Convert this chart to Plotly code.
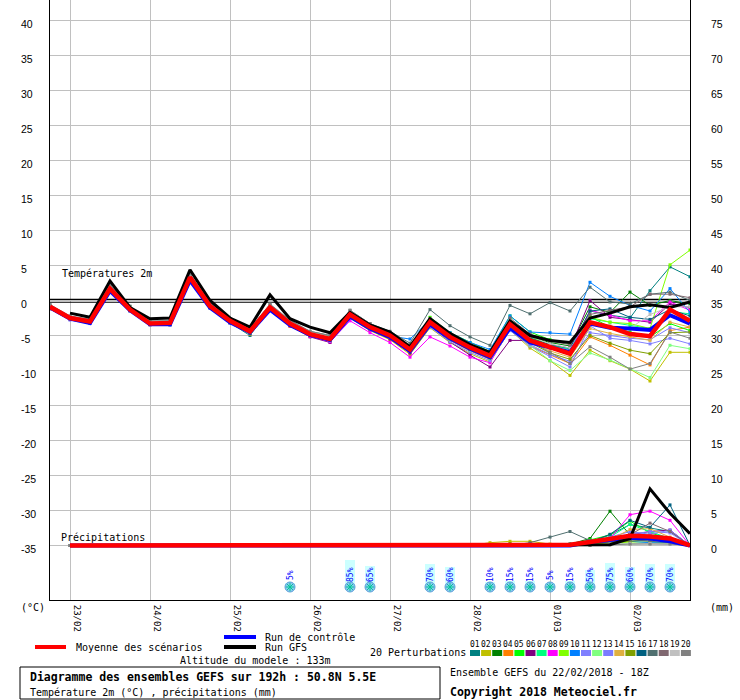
import plotly.graph_objects as go

# ---------------- data ----------------
hours = list(range(0, 193, 6))  # 22/02 18Z + 0..192h

date_tick_hours = [6, 30, 54, 78, 102, 126, 150, 174]
date_labels = ['23/02', '24/02', '25/02', '26/02', '27/02', '28/02', '01/03', '02/03']
temp_ticks = [-35, -30, -25, -20, -15, -10, -5, 0, 5, 10, 15, 20, 25, 30, 35, 40]
precip_ticks = [0, 5, 10, 15, 20, 25, 30, 35, 40, 45, 50, 55, 60, 65, 70, 75]

t_mean = [-0.9, -2.5, -3.0, 1.7, -1.3, -3.3, -3.2, 3.3, -0.8, -2.9,
          -4.4, -1.0, -3.3, -4.8, -5.5, -2.0, -3.8, -5.0, -7.0, -3.1,
          -5.2, -6.7, -7.9, -3.4, -5.7, -6.6, -7.6, -3.1, -3.8, -4.8,
          -5.1, -1.3, -2.9]
t_control = [-1.0, -2.6, -3.2, 1.4, -1.4, -3.4, -3.4, 2.9, -1.0, -3.1,
             -4.5, -1.3, -3.5, -4.9, -5.6, -2.3, -4.0, -5.2, -7.2, -3.4,
             -5.4, -6.9, -8.1, -3.9, -6.0, -6.7, -7.4, -3.3, -3.9, -4.0,
             -4.2, -2.1, -3.3]
t_gfs = [None, -1.8, -2.4, 2.8, -1.0, -2.6, -2.5, 4.4, 0.0, -2.5,
         -3.8, 0.8, -2.6, -3.8, -4.6, -1.7, -3.5, -4.5, -6.6, -2.6,
         -4.7, -6.3, -7.4, -2.9, -5.0, -5.7, -6.0, -2.5, -1.8, -0.9,
         -0.6, -1.0, -0.2]

t_p01 = [-1.0, -2.6, -3.1, 1.5, -1.2, -3.4, -3.3, 3.0, -0.9, -3.2,
         -5.0, -1.2, -3.5, -5.0, -5.8, -2.2, -4.0, -5.3, -7.4, -3.0,
         -5.4, -7.0, -8.3, -3.0, -5.5, -6.8, -7.3, -1.5, -2.1, -2.5,
         1.4, 4.8, 3.4]
t_p02 = [-1.2, -2.4, -3.0, 1.9, -1.4, -3.3, -3.4, 3.1, -0.6, -3.0,
         -4.5, -1.3, -3.6, -5.1, -5.9, -2.5, -4.3, -5.6, -7.7, -3.9,
         -6.0, -7.6, -8.8, -4.2, -6.8, -8.6, -10.7, -7.1, -8.6, -9.8,
         -11.5, -7.4, -7.4]
t_p03 = [-0.8, -2.3, -2.8, 2.0, -1.0, -3.1, -3.0, 3.6, -0.5, -2.7,
         -4.2, -0.7, -3.0, -4.6, -5.2, -1.8, -3.6, -4.8, -6.7, -2.7,
         -4.9, -6.4, -7.6, -2.8, -5.2, -6.0, -6.5, -0.9, -1.7, 1.2,
         -0.7, 0.0, -0.5]
t_p04 = [-1.1, -2.7, -3.2, 1.6, -1.5, -3.5, -3.5, 3.0, -1.0, -3.2,
         -4.8, -1.4, -3.7, -5.0, -5.8, -2.4, -4.1, -5.4, -7.3, -3.6,
         -5.7, -7.2, -8.4, -4.1, -6.5, -7.8, -9.0, -5.2, -6.4, -7.8,
         -9.2, -4.3, -3.8]
t_p05 = [-0.9, -2.5, -2.9, 1.9, -1.1, -3.2, -3.1, 3.4, -0.6, -2.8,
         -4.3, -0.9, -3.2, -4.6, -5.3, -1.7, -3.5, -4.7, -6.6, -2.4,
         -4.6, -6.0, -7.3, -2.2, -4.5, -5.6, -6.2, -2.3, -3.8, -4.5,
         -5.2, -3.3, -4.3]
t_p06 = [-1.0, -2.6, -3.1, 1.6, -1.3, -3.3, -3.3, 3.2, -0.9, -3.1,
         -4.6, -1.2, -3.6, -5.2, -6.0, -2.3, -4.2, -5.5, -7.5, -3.6,
         -5.9, -7.8, -9.5, -5.7, -5.7, -6.4, -6.9, 0.0, -2.4, -2.8,
         -3.1, -0.5, -1.0]
t_p07 = [-0.8, -2.4, -2.9, 1.8, -1.2, -3.1, -3.1, 3.4, -0.7, -2.9,
         -4.3, -0.9, -3.1, -4.7, -5.4, -1.9, -3.7, -4.9, -6.8, -2.8,
         -5.0, -6.5, -7.7, -2.9, -5.3, -6.3, -7.0, -2.6, -3.1, -3.6,
         -4.0, -1.6, -1.9]
t_p08 = [-1.1, -2.7, -3.2, 1.5, -1.4, -3.4, -3.4, 2.9, -1.0, -3.1,
         -4.6, -1.3, -3.6, -5.1, -5.9, -2.9, -4.6, -6.0, -8.1, -5.2,
         -6.5, -8.1, -8.9, -4.0, -5.8, -6.9, -7.5, -1.4, -2.1, -2.9,
         -2.9, -0.2, -1.4]
t_p09 = [-0.7, -2.4, -2.8, 1.9, -0.9, -3.1, -3.0, 3.5, -0.5, -2.7,
         -4.1, -0.8, -3.1, -4.5, -5.2, -1.8, -3.5, -4.7, -6.7, -2.5,
         -4.8, -6.3, -7.6, -2.7, -5.0, -6.6, -7.3, -2.4, -3.1, -3.3,
         -4.0, 5.1, 7.2]
t_p10 = [-1.0, -2.6, -3.2, 1.3, -1.5, -3.4, -3.5, 2.7, -1.1, -3.2,
         -4.6, -1.3, -3.4, -4.9, -5.6, -2.1, -3.9, -5.1, -5.5, -2.8,
         -4.6, -6.0, -7.0, -2.2, -4.5, -4.6, -4.8, 2.6, 0.6, -0.7,
         -1.5, 1.7, -1.7]
t_p11 = [-1.2, -2.8, -3.3, 1.4, -1.5, -3.5, -3.5, 2.9, -1.1, -3.2,
         -4.7, -1.2, -3.5, -5.0, -5.8, -2.3, -4.1, -5.3, -7.3, -3.8,
         -5.9, -7.4, -8.6, -4.3, -6.5, -8.0, -9.5, -3.6, -5.4, -5.7,
         -6.2, -5.4, -6.2]
t_p12 = [-1.0, -2.6, -3.1, 1.6, -1.2, -3.3, -3.3, 3.1, -0.8, -3.0,
         -4.5, -1.1, -3.4, -4.9, -5.6, -2.2, -4.0, -5.2, -7.2, -3.5,
         -5.6, -7.1, -8.3, -3.9, -6.4, -8.6, -10.0, -7.5, -8.5, -9.8,
         -11.0, -6.4, -6.9]
t_p13 = [-0.9, -2.5, -3.0, 1.7, -1.3, -3.2, -3.2, 3.2, -0.8, -3.0,
         -4.4, -1.0, -3.3, -4.8, -5.5, -2.1, -3.9, -5.1, -7.1, -3.3,
         -5.3, -6.9, -8.1, -3.8, -6.3, -7.7, -8.7, -4.6, -5.0, -5.4,
         -5.6, -3.9, -4.6]
t_p14 = [-1.1, -2.5, -3.0, 1.7, -1.3, -3.3, -3.3, 3.2, -0.7, -3.0,
         -4.5, -1.1, -3.4, -4.9, -5.6, -2.1, -3.9, -5.1, -7.1, -3.2,
         -5.3, -6.8, -8.0, -3.5, -5.9, -7.2, -8.1, -4.0, -4.7, -5.2,
         -5.7, -3.1, -3.8]
t_p15 = [-0.9, -2.5, -3.0, 1.8, -1.2, -3.2, -3.2, 3.3, -0.7, -2.9,
         -4.4, -1.0, -3.3, -4.8, -5.5, -2.0, -3.8, -5.0, -7.0, -3.4,
         -5.5, -7.0, -8.2, -3.7, -6.0, -7.5, -8.4, -5.0, -6.1, -7.1,
         -7.6, -4.6, -4.5]
t_p16 = [-1.0, -2.6, -3.1, 1.5, -1.4, -3.4, -3.4, 3.0, -0.9, -3.1,
         -4.7, -1.2, -3.5, -5.0, -5.7, -2.2, -4.0, -5.2, -7.2, -3.3,
         -5.4, -6.9, -8.1, -3.1, -5.4, -6.3, -6.8, -1.5, -1.2, -2.4,
         -2.7, -1.3, -2.2]
t_p17 = [-0.6, -2.3, -2.7, 2.2, -0.8, -3.0, -2.9, 3.7, -0.4, -2.6,
         -4.0, -0.6, -2.9, -4.4, -5.0, -1.4, -3.3, -4.4, -6.1, -1.3,
         -3.6, -5.2, -6.4, -0.7, -1.9, -0.3, -1.5, 1.9, -0.2, -0.5,
         0.9, 1.2, 0.0]
t_p18 = [-0.8, -2.4, -2.9, 1.9, -1.1, -3.1, -3.1, 3.4, -0.6, -2.8,
         -4.2, -0.8, -3.1, -4.6, -5.3, -1.6, -3.5, -4.7, -6.6, -2.6,
         -4.8, -6.3, -7.5, -2.5, -4.8, -5.8, -6.3, -2.0, -1.4, -0.9,
         0.9, 0.9, 0.4]
t_p19 = [-0.7, -2.3, -2.8, 2.0, -1.0, -3.0, -3.0, 3.6, -0.5, -2.7,
         -4.1, -0.7, -3.0, -4.5, -5.2, -1.5, -3.4, -4.7, -6.7, -2.6,
         -4.9, -6.4, -7.6, -2.9, -5.1, -6.2, -6.8, -3.5, -3.6, -4.0,
         -2.0, -0.9, -0.9]
t_p20 = [-0.6, -2.2, -2.7, 2.3, -0.9, -2.9, -2.9, 3.8, -0.3, -2.6,
         -4.0, -0.5, -2.8, -4.4, -5.0, -1.4, -3.3, -4.6, -6.7, -2.9,
         -5.1, -6.7, -8.0, -3.3, -5.8, -7.4, -9.0, -6.6, -8.1, -9.8,
         -9.0, -4.5, -5.4]

# precipitation (mm), first step has no value
pr_mean = [None, 0, 0, 0, 0, 0, 0, 0, 0, 0,
           0, 0, 0, 0.1, 0.1, 0.1, 0.1, 0.1, 0.1, 0.1,
           0.1, 0.1, 0.1, 0.1, 0.1, 0.1, 0.1, 0.5, 1.0, 1.4,
           1.3, 1.0, 0.0]
pr_control = [None, 0, 0, 0, 0, 0, 0, 0, 0, 0,
              0, 0, 0, 0, 0, 0, 0, 0, 0, 0,
              0, 0, 0, 0, 0, 0, 0, 0.5, 0.8, 1.1,
              1.0, 0.6, 0.0]
pr_gfs = [None, 0, 0, 0, 0, 0, 0, 0, 0, 0,
          0, 0, 0, 0, 0, 0, 0, 0, 0, 0,
          0, 0, 0, 0, 0, 0, 0, 0, 0.1, 1.0,
          8.1, 4.6, 1.7]

pr_p01 = [None, 0, 0, 0, 0, 0, 0, 0, 0, 0, 0, 0, 0, 0, 0, 0, 0, 0, 0, 0, 0,
          0, 0, 0, 0, 0.1, 0.2, 0.5, 1.5, 3.0, 2.5, 2.0, 0]
pr_p02 = [None, 0, 0, 0, 0, 0, 0, 0, 0, 0, 0, 0, 0, 0, 0, 0, 0, 0, 0, 0, 0,
          0, 0.4, 0.6, 0.6, 0.2, 0.1, 0.3, 0.8, 1.5, 1.2, 0.8, 0]
pr_p03 = [None, 0, 0, 0, 0, 0, 0, 0, 0, 0, 0, 0, 0, 0, 0, 0, 0, 0, 0, 0, 0,
          0, 0, 0, 0, 0, 0.2, 1.0, 4.9, 1.5, 1.0, 0.5, 0]
pr_p04 = [None, 0, 0, 0, 0, 0, 0, 0, 0, 0, 0, 0, 0, 0, 0, 0, 0, 0, 0, 0, 0,
          0, 0, 0, 0, 0, 0, 0.3, 0.5, 0.8, 1.5, 1.0, 0]
pr_p05 = [None, 0, 0, 0, 0, 0, 0, 0, 0, 0, 0, 0, 0, 0, 0, 0, 0, 0, 0, 0, 0,
          0, 0, 0, 0, 0, 0.1, 0.8, 1.5, 3.5, 1.8, 1.0, 0]
pr_p06 = [None, 0, 0, 0, 0, 0, 0, 0, 0, 0, 0, 0, 0, 0, 0, 0, 0, 0, 0, 0, 0,
          0, 0, 0, 0, 0, 0, 0.2, 0.5, 1.5, 2.0, 2.2, 0]
pr_p07 = [None, 0, 0, 0, 0, 0, 0, 0, 0, 0, 0, 0, 0, 0, 0, 0, 0, 0, 0, 0, 0,
          0, 0, 0, 0, 0, 0.1, 0.6, 1.2, 3.0, 2.0, 1.0, 0]
pr_p08 = [None, 0, 0, 0, 0, 0, 0, 0, 0, 0, 0, 0, 0, 0, 0, 0, 0, 0, 0, 0, 0,
          0, 0, 0, 0, 0, 0, 0.2, 1.0, 4.4, 4.9, 3.6, 0]
pr_p09 = [None, 0, 0, 0, 0, 0, 0, 0, 0, 0, 0, 0, 0, 0, 0, 0, 0, 0, 0, 0, 0,
          0, 0, 0, 0, 0, 0, 0.1, 0.3, 0.5, 0.5, 0.4, 0]
pr_p10 = [None, 0, 0, 0, 0, 0, 0, 0, 0, 0, 0, 0, 0, 0, 0, 0, 0, 0, 0, 0, 0,
          0, 0, 0, 0, 0, 0, 0.2, 0.6, 0.6, 0.4, 0.4, 0]
pr_p11 = [None, 0, 0, 0, 0, 0, 0, 0, 0, 0, 0, 0, 0, 0, 0, 0, 0, 0, 0, 0, 0,
          0, 0, 0, 0, 0, 0, 0.3, 0.8, 1.6, 2.0, 1.8, 0]
pr_p12 = [None, 0, 0, 0, 0, 0, 0, 0, 0, 0, 0, 0, 0, 0, 0, 0, 0, 0, 0, 0, 0,
          0, 0, 0, 0, 0, 0, 0.1, 0.2, 0.3, 0.3, 0.3, 0]
pr_p13 = [None, 0, 0, 0, 0, 0, 0, 0, 0, 0, 0, 0, 0, 0, 0, 0, 0, 0, 0, 0, 0,
          0, 0, 0, 0, 0, 0, 0.4, 1.2, 2.0, 1.6, 2.2, 0]
pr_p14 = [None, 0, 0, 0, 0, 0, 0, 0, 0, 0, 0, 0, 0, 0, 0, 0, 0, 0, 0, 0, 0,
          0, 0, 0, 0, 0, 0, 0.3, 0.8, 2.3, 2.4, 1.2, 0]
pr_p15 = [None, 0, 0, 0, 0, 0, 0, 0, 0, 0, 0, 0, 0, 0, 0, 0, 0, 0, 0, 0, 0,
          0, 0, 0.3, 0, 0, 0, 0.2, 0.4, 0.6, 0.8, 0.5, 0]
pr_p16 = [None, 0, 0, 0, 0, 0, 0, 0, 0, 0, 0, 0, 0, 0, 0, 0, 0, 0, 0, 0, 0,
          0, 0, 0, 0, 0, 0.1, 0.5, 1.6, 3.6, 2.6, 5.8, 0]
pr_p17 = [None, 0, 0, 0, 0, 0, 0, 0, 0, 0, 0, 0, 0, 0, 0, 0, 0, 0, 0, 0, 0,
          0, 0, 0, 0.4, 1.2, 2.0, 0.7, 0.5, 0.8, 0.6, 0.4, 0]
pr_p18 = [None, 0, 0, 0, 0, 0, 0, 0, 0, 0, 0, 0, 0, 0, 0, 0, 0, 0, 0, 0, 0,
          0, 0, 0, 0, 0, 0, 0.3, 0.8, 1.5, 3.2, 2.0, 0]
pr_p19 = [None, 0, 0, 0, 0, 0, 0, 0, 0, 0, 0, 0, 0, 0, 0, 0, 0, 0, 0, 0, 0,
          0, 0, 0, 0, 0, 0, 0.1, 0.2, 0.3, 0.3, 0.2, 0]
pr_p20 = [None, 0, 0, 0, 0, 0, 0, 0, 0, 0, 0, 0, 0, 0, 0, 0, 0, 0, 0, 0, 0,
          0, 0, 0, 0, 0, 0, 0, 0.1, 0.2, 0.2, 0.2, 0]

pert_colors = ['#008080', '#c0c000', '#008000', '#ff8000', '#00ff00',
               '#800080', '#00ff80', '#ff00ff', '#80ff00', '#0080ff',
               '#8080ff', '#80ff80', '#7b7bff', '#e0b040', '#80a000',
               '#006080', '#507070', '#806870', '#c0c0c0', '#808080']
pert_labels = ['01', '02', '03', '04', '05', '06', '07', '08', '09', '10',
               '11', '12', '13', '14', '15', '16', '17', '18', '19', '20']

snow_hours = [72, 90, 96, 114, 120, 132, 138, 144, 150, 156, 162, 168, 174, 180, 186]
snow_pct = [5, 85, 65, 70, 60, 10, 15, 15, 5, 15, 50, 75, 60, 70, 70]

zero_line_levels = [0.15, -0.25]

# ---------------- layout geometry ----------------
W, H = 740, 700
ML, MR, MT, MB = 50, 50, 0, 100
PW, PH = W - ML - MR, H - MT - MB
Y0PX = 300.5      # pixel row of 0 degC
PXU = 7.0         # pixels per degree
yr = [(Y0PX - (MT + PH)) / PXU, (Y0PX - MT) / PXU]
PRECIP_OFFSET = 35


def px_x(x):
    return (x - ML) / PW


def px_y(y):
    return (MT + PH - y) / PH


def t_at(y):
    return (Y0PX - y) / PXU


MONO = 'DejaVu Sans Mono'
SANS = 'Liberation Sans'

t_perts = [t_p01, t_p02, t_p03, t_p04, t_p05, t_p06, t_p07, t_p08, t_p09, t_p10,
           t_p11, t_p12, t_p13, t_p14, t_p15, t_p16, t_p17, t_p18, t_p19, t_p20]
pr_perts = [pr_p01, pr_p02, pr_p03, pr_p04, pr_p05, pr_p06, pr_p07, pr_p08, pr_p09, pr_p10,
            pr_p11, pr_p12, pr_p13, pr_p14, pr_p15, pr_p16, pr_p17, pr_p18, pr_p19, pr_p20]

fig = go.Figure()

# snow probability bars
fig.add_trace(go.Bar(x=snow_hours, y=[p * 0.3 / PXU for p in snow_pct], base=t_at(585),
                     width=3, marker=dict(color='#ccffff', line=dict(width=0)),
                     yaxis='y', showlegend=False, hoverinfo='skip'))
# snowflake icons
fig.add_trace(go.Scatter(x=snow_hours, y=[t_at(587)] * len(snow_hours), mode='markers',
                         marker=dict(symbol='circle', size=10, color='#8cc8f0',
                                     line=dict(color='#5aa0d8', width=1)),
                         showlegend=False, hoverinfo='skip'))
fig.add_trace(go.Scatter(x=snow_hours, y=[t_at(587)] * len(snow_hours), mode='markers',
                         marker=dict(symbol='asterisk-open', size=7,
                                     line=dict(color='#e8f6ff', width=1)),
                         showlegend=False, hoverinfo='skip'))

# zero degree double line
for lv in zero_line_levels:
    fig.add_trace(go.Scatter(x=[hours[0], hours[-1]], y=[lv, lv], mode='lines',
                             line=dict(color='black', width=1.2),
                             showlegend=False, hoverinfo='skip'))

# perturbations
for tv, pv, col in zip(t_perts, pr_perts, pert_colors):
    fig.add_trace(go.Scatter(x=hours, y=tv, mode='lines+markers',
                             line=dict(color=col, width=1),
                             marker=dict(color=col, size=3, symbol='square'),
                             showlegend=False, hoverinfo='skip'))
    fig.add_trace(go.Scatter(x=hours, y=pv, yaxis='y2', mode='lines+markers',
                             line=dict(color=col, width=1),
                             marker=dict(color=col, size=3, symbol='square'),
                             showlegend=False, hoverinfo='skip'))

# control, GFS, mean
for tv, pv, col, wd in [(t_control, pr_control, '#0000ff', 4),
                        (t_gfs, pr_gfs, '#000000', 3),
                        (t_mean, pr_mean, '#ff0000', 4.5)]:
    fig.add_trace(go.Scatter(x=hours, y=tv, mode='lines', line=dict(color=col, width=wd),
                             showlegend=False, hoverinfo='skip'))
    fig.add_trace(go.Scatter(x=hours, y=pv, yaxis='y2', mode='lines',
                             line=dict(color=col, width=wd),
                             showlegend=False, hoverinfo='skip'))

annotations = []
# axis labels
for v in temp_ticks:
    annotations.append(dict(x=px_x(19), xref='paper', y=v, yref='y', yshift=-3,
                            text=str(v), showarrow=False, xanchor='left', yanchor='middle',
                            font=dict(family=SANS, size=10.5, color='black')))
for v in precip_ticks:
    annotations.append(dict(x=px_x(709), xref='paper', y=v, yref='y2', yshift=-3,
                            text=str(v), showarrow=False, xanchor='left', yanchor='middle',
                            font=dict(family=SANS, size=10.5, color='black')))
# snow percentages
for h, p in zip(snow_hours, snow_pct):
    annotations.append(dict(x=h, xref='x', y=t_at(575), yref='y', text=f'{p}%',
                            textangle=-90, showarrow=False, xanchor='center', yanchor='middle',
                            font=dict(family=MONO, size=8, color='#0000ff')))


def txt(x, y, s, size=10, bold=False):
    annotations.append(dict(x=px_x(x), y=px_y(y), xref='paper', yref='paper',
                            text=f'<b>{s}</b>' if bold else s, showarrow=False,
                            xanchor='left', yanchor='middle',
                            font=dict(family=MONO, size=size, color='black')))


txt(60, 273, 'Températures 2m')
txt(59, 537, 'Précipitations')
txt(19, 607, '(°C)')
txt(708, 607, '(mm)')
txt(74, 647, 'Moyenne des scénarios')
txt(263, 637, 'Run de contrôle')
txt(263, 647, 'Run GFS')
txt(178, 660, 'Altitude du modele : 133m')
txt(368, 652, '20 Perturbations')
txt(448, 672, 'Ensemble GEFS du 22/02/2018 - 18Z')
txt(448, 692, 'Copyright 2018 Meteociel.fr', size=11.5, bold=True)
txt(28, 677, 'Diagramme des ensembles GEFS sur 192h : 50.8N 5.5E', size=11.5, bold=True)
txt(28, 692, 'Température 2m (°C) , précipitations (mm)')

shapes = []
# legend lines
for (x0, x1, y, col) in [(35, 66, 647, '#ff0000'), (224, 256, 637, '#0000ff'),
                         (224, 256, 647, '#000000')]:
    shapes.append(dict(type='line', xref='paper', yref='paper', x0=px_x(x0), x1=px_x(x1),
                       y0=px_y(y), y1=px_y(y), line=dict(color=col, width=4)))
# perturbation colour boxes
for k, (col, lab) in enumerate(zip(pert_colors, pert_labels)):
    bx = 470 + 11.1 * k
    shapes.append(dict(type='rect', xref='paper', yref='paper', x0=px_x(bx), x1=px_x(bx + 10),
                       y0=px_y(656), y1=px_y(650), fillcolor=col, line=dict(width=0)))
    annotations.append(dict(x=px_x(bx + 5), y=px_y(644), xref='paper', yref='paper', text=lab,
                            showarrow=False, xanchor='center', yanchor='middle',
                            font=dict(family=MONO, size=8, color='black')))
# title box
shapes.append(dict(type='rect', xref='paper', yref='paper', x0=px_x(20), x1=px_x(440),
                   y0=px_y(699), y1=px_y(667), line=dict(color='black', width=1)))

fig.update_layout(
    width=W, height=H, autosize=False,
    margin=dict(l=ML, r=MR, t=MT, b=MB, pad=0),
    paper_bgcolor='white', plot_bgcolor='white',
    showlegend=False, hovermode=False, bargap=0,
    xaxis=dict(range=[hours[0], hours[-1]], tickvals=date_tick_hours, ticktext=date_labels,
               tickangle=90, ticklabelshift=7, ticklabelstandoff=2, ticks='',
               tickfont=dict(family=MONO, size=9, color='black'),
               showgrid=True, gridcolor='#c0c0c0', gridwidth=1, zeroline=False,
               showline=True, linecolor='black', linewidth=1, mirror=False),
    yaxis=dict(range=yr, tickvals=temp_ticks, showticklabels=False, ticks='',
               showgrid=True, gridcolor='#c0c0c0', gridwidth=1, zeroline=False,
               showline=True, linecolor='black', linewidth=1),
    yaxis2=dict(range=[yr[0] + PRECIP_OFFSET, yr[1] + PRECIP_OFFSET], overlaying='y',
                side='right', showgrid=False, zeroline=False, showticklabels=False, ticks='',
                showline=True, linecolor='black', linewidth=1),
    annotations=annotations, shapes=shapes,
)

fig.write_html("out.html", config={'displayModeBar': False},
               post_script="document.body.style.margin='0';document.body.style.overflow='hidden';")
